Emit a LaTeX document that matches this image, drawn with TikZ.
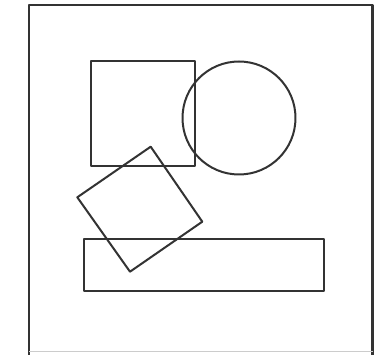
\documentclass[tikz,border=0pt]{standalone}
\begin{document}
\begin{tikzpicture}[x=1pt,y=-1pt,
  outline/.style={draw=black!80,line width=2pt,line join=round}]
\useasboundingbox (0,0) rectangle (381,355);
\fill[white] (0,0) rectangle (381,355);
\draw[outline,line width=2.4pt] (29,356) -- (29,5) -- (372.5,5) -- (372.5,356);
\draw[black!20,line width=1pt] (29,352) -- (372.5,352);
\draw[outline] (91,61) rectangle (195,166);
\draw[outline] (239,118) circle (56.5);
\draw[outline] (150.7,146.7) -- (202.3,221.7) -- (130,271.7) -- (77.3,197.3) -- cycle;
\draw[outline] (83.5,239.5) rectangle (324,291.5);
\end{tikzpicture}
\end{document}
